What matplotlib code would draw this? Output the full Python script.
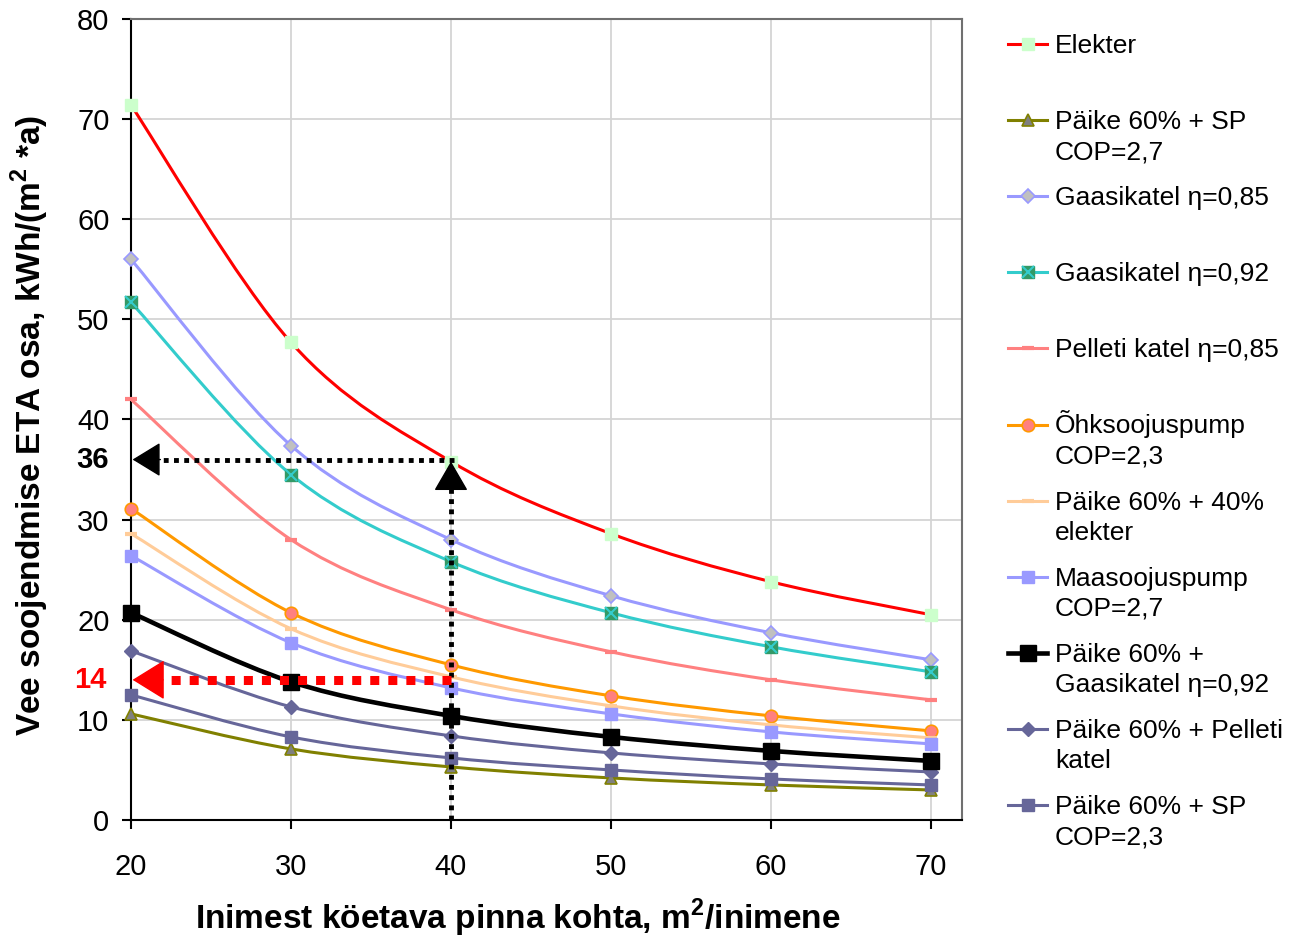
import matplotlib
matplotlib.use("Agg")
import matplotlib.pyplot as plt
from matplotlib.path import Path
from matplotlib.patches import PathPatch
from matplotlib.lines import Line2D
import numpy as np

plt.rcParams['font.family'] = ['Liberation Sans', 'DejaVu Sans']
plt.rcParams['mathtext.fontset'] = 'custom'
plt.rcParams['mathtext.rm'] = 'Liberation Sans'
plt.rcParams['mathtext.bf'] = 'Liberation Sans:bold'

# floor area per person, m2
area = [20, 30, 40, 50, 60, 70]

elekter = [71.4, 47.7, 35.8, 28.6, 23.8, 20.5]
paike_sp27 = [10.6, 7.1, 5.3, 4.2, 3.5, 3.0]
gaas_085 = [56.0, 37.4, 28.0, 22.4, 18.7, 16.0]
gaas_092 = [51.7, 34.5, 25.8, 20.7, 17.3, 14.8]
pellet_085 = [42.0, 28.0, 21.0, 16.8, 14.0, 12.0]
ohk_sp = [31.1, 20.7, 15.5, 12.4, 10.4, 8.9]
paike_elekter = [28.6, 19.1, 14.3, 11.4, 9.5, 8.2]
maa_sp = [26.4, 17.7, 13.2, 10.6, 8.8, 7.6]
paike_gaas = [20.7, 13.8, 10.4, 8.3, 6.9, 5.9]
paike_pellet = [16.9, 11.3, 8.4, 6.7, 5.6, 4.8]
paike_sp23 = [12.5, 8.3, 6.2, 5.0, 4.1, 3.5]

# label, values, line colour, line width, marker style
series = [
    ("Elekter", elekter, '#FF0000', 2.2,
     dict(marker='s', ms=9, mfc='#CCFFCC', mec='#CCFFCC')),
    ("Päike 60% + SP\nCOP=2,7", paike_sp27, '#808000', 2.2,
     dict(marker='^', ms=9, mfc='#808080', mec='#808000', mew=1.2)),
    ("Gaasikatel η=0,85", gaas_085, '#9999FF', 2.2,
     dict(marker='D', ms=7, mfc='#C0C0C0', mec='#9999FF', mew=1.2)),
    ("Gaasikatel η=0,92", gaas_092, '#33CCCC', 2.2,
     dict(marker='s', ms=9, mfc='#339966', mec='#339966')),
    ("Pelleti katel η=0,85", pellet_085, '#FF8080', 2.2,
     dict(marker='_', ms=8, mec='#FF8080', mew=3)),
    ("Õhksoojuspump\nCOP=2,3", ohk_sp, '#FF9900', 2.2,
     dict(marker='o', ms=9, mfc='#FF8080', mec='#FF9900', mew=1.2)),
    ("Päike 60% + 40%\nelekter", paike_elekter, '#FFCC99', 2.2,
     dict(marker='_', ms=8, mec='#FFCC99', mew=3)),
    ("Maasoojuspump\nCOP=2,7", maa_sp, '#9999FF', 2.2,
     dict(marker='s', ms=9, mfc='#9999FF', mec='#9999FF')),
    ("Päike 60% +\nGaasikatel η=0,92", paike_gaas, '#000000', 3.3,
     dict(marker='s', ms=12, mfc='#000000', mec='#000000')),
    ("Päike 60% + Pelleti\nkatel", paike_pellet, '#666699', 2.2,
     dict(marker='D', ms=7, mfc='#666699', mec='#666699')),
    ("Päike 60% + SP\nCOP=2,3", paike_sp23, '#666699', 2.2,
     dict(marker='s', ms=9, mfc='#666699', mec='#666699')),
]

W, H = 1289, 942
fig = plt.figure(figsize=(W / 100, H / 100), dpi=100)
ax = fig.add_axes([131 / W, 1 - 820 / H, (962 - 131) / W, (820 - 19) / H])


def smooth_path(xs, ys):
    # Bezier segments through every point, like a spreadsheet "smoothed line"
    p = np.column_stack([xs, ys]).astype(float)
    n = len(p)
    verts = [p[0]]
    codes = [Path.MOVETO]
    for i in range(n - 1):
        p0 = p[max(i - 1, 0)]
        p1 = p[i]
        p2 = p[i + 1]
        p3 = p[min(i + 2, n - 1)]
        c1 = p1 + (p2 - p0) / 6.0
        c2 = p2 - (p3 - p1) / 6.0
        verts += [c1, c2, p2]
        codes += [Path.CURVE4] * 3
    return Path(verts, codes)


for z, (label, vals, color, lw, mk) in enumerate(series):
    zo = 5 if color == '#000000' else 3
    ax.add_patch(PathPatch(smooth_path(area, vals), fill=False, edgecolor=color,
                           lw=lw, zorder=zo, capstyle='round', joinstyle='round'))
    ax.plot(area, vals, ls='none', zorder=zo + 0.5, clip_on=False, **mk)
    if label.startswith("Gaasikatel η=0,92"):
        ax.plot(area, vals, ls='none', marker='x', ms=8, mec='#33CCCC', mew=1.5,
                zorder=zo + 0.6, clip_on=False)

ax.set_xlim(20, 71.94)
ax.set_ylim(0, 80)
ax.set_xticks(area)
ax.set_yticks(np.arange(0, 81, 10))
ax.grid(True, color='#D4D4D4', lw=1.3)
ax.set_axisbelow(True)
for s in ['left', 'bottom']:
    ax.spines[s].set_color('black')
    ax.spines[s].set_linewidth(1.5)
for s in ['top', 'right']:
    ax.spines[s].set_color('#707070')
    ax.spines[s].set_linewidth(1.5)
ax.tick_params(axis='both', direction='out', length=6.5, width=1.5, labelsize=21)
ax.tick_params(axis='y', pad=9)
ax.tick_params(axis='x', pad=17)
ax.tick_params(top=False, right=False)

# reading guides: 40 m2 per person -> 36 and 14 kWh
ax.plot([40, 40], [0, 33.3], color='black', lw=3.5, ls=(0, (1, 1.1)),
        dash_capstyle='butt', zorder=6)
ax.annotate('', xy=(40, 35.8), xytext=(0, -20), textcoords='offset points',
            arrowprops=dict(arrowstyle='-|>,head_length=0.95,head_width=0.55',
                            mutation_scale=20, color='black', lw=1,
                            shrinkA=0, shrinkB=0), zorder=7)
ax.plot([40.2, 21.6], [36, 36], color='black', lw=3.5, ls=(0, (1, 1.1)),
        dash_capstyle='butt', zorder=6)
ax.annotate('', xy=(20.1, 36), xytext=(20, 0), textcoords='offset points',
            arrowprops=dict(arrowstyle='-|>,head_length=0.9,head_width=0.55',
                            mutation_scale=20, color='black', lw=1,
                            shrinkA=0, shrinkB=0), zorder=7)
ax.plot([40, 21.9], [14, 14], color='#FF0000', lw=6.5, ls=(0, (1, 1)),
        dash_capstyle='butt', zorder=6)
ax.annotate('', xy=(20.1, 14), xytext=(22, 0), textcoords='offset points',
            arrowprops=dict(arrowstyle='-|>,head_length=1.05,head_width=0.65',
                            mutation_scale=20, color='#FF0000', lw=1,
                            shrinkA=0, shrinkB=0), zorder=7)
ax.text(-0.027, 36, "36", transform=ax.get_yaxis_transform(), ha='right',
        va='center', fontsize=21, fontweight='bold', color='black')
ax.text(-0.03, 14, "14", transform=ax.get_yaxis_transform(), ha='right',
        va='center', fontsize=21, fontweight='bold', color='#FF0000')

fig.text(518 / W, 1 - 918 / H, "Inimest köetava pinna kohta, m$^\\mathbf{2}$/inimene",
         ha='center', va='center', fontsize=24, fontweight='bold')
fig.text(30 / W, 1 - 425 / H, "Vee soojendmise ETA osa, kWh/(m$^\\mathbf{2}$ *a)",
         ha='center', va='center', rotation=90, fontsize=24, fontweight='bold')

# legend column on the right
y0, step, line_gap = 44, 76.1, 30
for i, (label, vals, color, lw, mk) in enumerate(series):
    yc = 1 - (y0 + i * step) / H
    fig.add_artist(Line2D([1008 / W, 1047 / W], [yc, yc], color=color, lw=lw,
                          transform=fig.transFigure))
    fig.add_artist(Line2D([1027.5 / W], [yc], ls='none', transform=fig.transFigure, **mk))
    if label.startswith("Gaasikatel η=0,92"):
        fig.add_artist(Line2D([1027.5 / W], [yc], ls='none', marker='x', ms=8,
                              mec='#33CCCC', mew=1.5, transform=fig.transFigure))
    for j, part in enumerate(label.split("\n")):
        fig.text(1055 / W, 1 - (y0 + i * step + 9 + j * line_gap) / H, part,
                 ha='left', va='baseline', fontsize=19)

fig.savefig("out.png", dpi=100)
